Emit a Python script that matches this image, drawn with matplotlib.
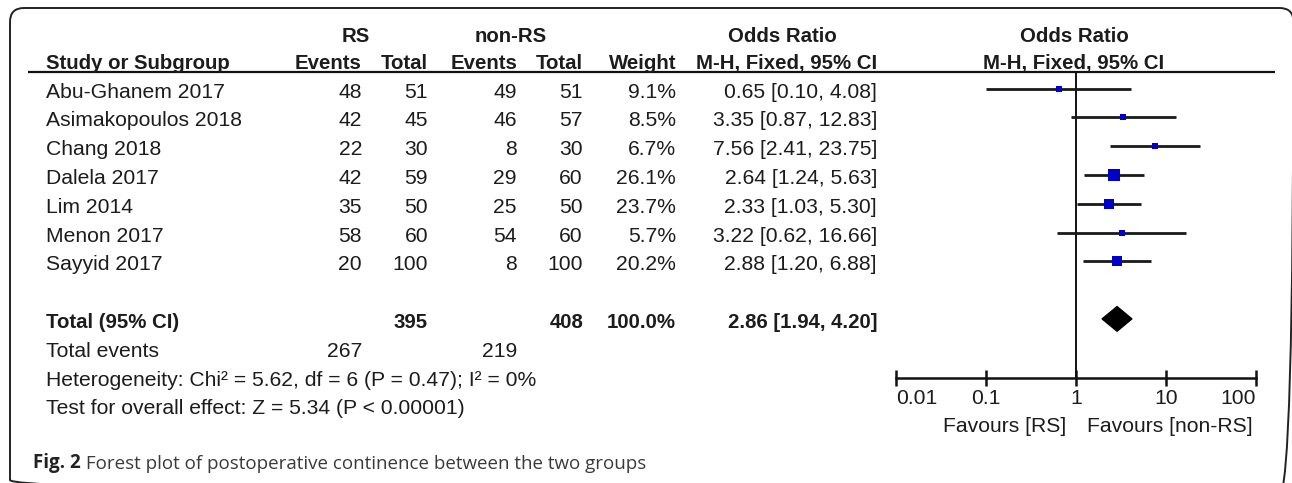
import matplotlib
matplotlib.use("Agg")
import matplotlib.pyplot as plt
from matplotlib.patches import FancyBboxPatch, Polygon
import numpy as np

# ---------------- data ----------------
studies = ["Abu-Ghanem 2017", "Asimakopoulos 2018", "Chang 2018", "Dalela 2017",
           "Lim 2014", "Menon 2017", "Sayyid 2017"]
rs_events = [48, 42, 22, 42, 35, 58, 20]
rs_total = [51, 45, 30, 59, 50, 60, 100]
non_events = [49, 46, 8, 29, 25, 54, 8]
non_total = [51, 57, 30, 60, 50, 60, 100]
weights = [9.1, 8.5, 6.7, 26.1, 23.7, 5.7, 20.2]
odds = [0.65, 3.35, 7.56, 2.64, 2.33, 3.22, 2.88]
ci_low = [0.10, 0.87, 2.41, 1.24, 1.03, 0.62, 1.20]
ci_high = [4.08, 12.83, 23.75, 5.63, 5.30, 16.66, 6.88]

total_rs = 395
total_non = 408
total_weight = 100.0
total_or = 2.86
total_low = 1.94
total_high = 4.20
events_rs = 267
events_non = 219
heterogeneity = "Heterogeneity: Chi\u00b2 = 5.62, df = 6 (P = 0.47); I\u00b2 = 0%"
overall = "Test for overall effect: Z = 5.34 (P < 0.00001)"
xticks = [0.01, 0.1, 1, 10, 100]
xticklabels = ["0.01", "0.1", "1", "10", "100"]
favours_left = "Favours [RS]"
favours_right = "Favours [non-RS]"
caption_bold = "Fig. 2"
caption_text = " Forest plot of postoperative continence between the two groups"

# ---------------- style ----------------
W, H = 1292, 483
TXT = "#1c1c1c"
BODY = dict(family="Liberation Sans", fontsize=15.2, color=TXT)
BOLD = dict(family="Liberation Sans", fontsize=14.7, color=TXT, fontweight="bold")
BLUE = "#0000c8"

fig = plt.figure(figsize=(W / 100, H / 100), dpi=100)
fig.patch.set_facecolor("white")
ax = fig.add_axes([0, 0, 1, 1])
ax.set_xlim(0, W)
ax.set_ylim(H, 0)
ax.axis("off")

# border
border = FancyBboxPatch((10, 8), 1283.5, 486, boxstyle="round,pad=0,rounding_size=14",
                        fc="none", ec="#222222", lw=1.4, clip_on=False)
ax.add_patch(border)

# layout
row0, dy = 88.5, 28.8
rows = [row0 + dy * i for i in range(len(studies))]
y_total = row0 + dy * 8
y_events = row0 + dy * 9
y_het = row0 + dy * 10
y_test = row0 + dy * 11
boff = 9  # baseline offset from mark centre
x_name = 46
x_rs_e, x_rs_t, x_non_e, x_non_t, x_w, x_ci = 362, 428, 517, 583, 676, 877

# headers
ax.text(356, 42, "RS", ha="center", va="baseline", **BOLD)
ax.text(511, 42, "non-RS", ha="center", va="baseline", **BOLD)
ax.text(782, 42, "Odds Ratio", ha="center", va="baseline", **BOLD)
ax.text(1074, 42, "Odds Ratio", ha="center", va="baseline", **BOLD)
hy = 69
ax.text(x_name, hy, "Study or Subgroup", ha="left", va="baseline", **BOLD)
for x, s in [(x_rs_e, "Events"), (x_rs_t, "Total"), (x_non_e, "Events"),
             (x_non_t, "Total"), (x_w, "Weight"), (x_ci, "M-H, Fixed, 95% CI")]:
    ax.text(x, hy, s, ha="right", va="baseline", **BOLD)
ax.text(1074, hy, "M-H, Fixed, 95% CI", ha="center", va="baseline", **BOLD)
ax.plot([28, 1275], [72, 72], color="#111111", lw=1.6, solid_capstyle="butt")

# study rows
for i, y in enumerate(rows):
    b = y + boff
    ax.text(x_name, b, studies[i], ha="left", va="baseline", **BODY)
    ax.text(x_rs_e, b, str(rs_events[i]), ha="right", va="baseline", **BODY)
    ax.text(x_rs_t, b, str(rs_total[i]), ha="right", va="baseline", **BODY)
    ax.text(x_non_e, b, str(non_events[i]), ha="right", va="baseline", **BODY)
    ax.text(x_non_t, b, str(non_total[i]), ha="right", va="baseline", **BODY)
    ax.text(x_w, b, f"{weights[i]:.1f}%", ha="right", va="baseline", **BODY)
    ax.text(x_ci, b, f"{odds[i]:.2f} [{ci_low[i]:.2f}, {ci_high[i]:.2f}]",
            ha="right", va="baseline", **BODY)

# totals
b = y_total + boff
ax.text(x_name, b, "Total (95% CI)", ha="left", va="baseline", **BOLD)
ax.text(x_rs_t, b, str(total_rs), ha="right", va="baseline", **BOLD)
ax.text(x_non_t, b, str(total_non), ha="right", va="baseline", **BOLD)
ax.text(x_w, b, f"{total_weight:.1f}%", ha="right", va="baseline", **BOLD)
ax.text(x_ci, b, f"{total_or:.2f} [{total_low:.2f}, {total_high:.2f}]",
        ha="right", va="baseline", **BOLD)
b = y_events + boff
ax.text(x_name, b, "Total events", ha="left", va="baseline", **BODY)
ax.text(x_rs_e, b, str(events_rs), ha="right", va="baseline", **BODY)
ax.text(x_non_e, b, str(events_non), ha="right", va="baseline", **BODY)
ax.text(x_name, y_het + boff, heterogeneity, ha="left", va="baseline", **BODY)
ax.text(x_name, y_test + boff, overall, ha="left", va="baseline", **BODY)

# favours labels
ax.text(1066, 432, favours_left, ha="right", va="baseline", **BODY)
ax.text(1087, 432, favours_right, ha="left", va="baseline", **BODY)

# caption
cap = ax.text(33, 468, caption_bold, ha="left", va="baseline", family="Open Sans",
              fontsize=13.5, fontweight="bold", color="#222222")
ax.annotate(caption_text, xy=(1, 0), xycoords=cap, va="bottom", ha="left",
            family="Open Sans", fontsize=13.5, color="#3a3a3a")

# ---------------- forest axes ----------------
fx = fig.add_axes([896 / W, 0, 360 / W, 1])
fx.set_xscale("log")
fx.set_xlim(0.01, 100)
fx.set_ylim(H, 0)
fx.patch.set_alpha(0)
for s in ["top", "left", "right"]:
    fx.spines[s].set_visible(False)
axis_y = 378
fx.spines["bottom"].set_position(("data", axis_y))
fx.spines["bottom"].set_linewidth(1.8)
fx.spines["bottom"].set_color("#111111")
fx.set_yticks([])
fx.set_xticks(xticks)
fx.set_xticklabels(xticklabels)
fx.xaxis.set_minor_locator(matplotlib.ticker.NullLocator())
fx.tick_params(axis="x", direction="inout", length=11.5, width=1.8, color="#111111",
               pad=2.2, labelsize=15.2, labelcolor=TXT)
for lab in fx.get_xticklabels():
    lab.set_family("Liberation Sans")
labs = fx.get_xticklabels()
labs[0].set_ha("left")
labs[-1].set_ha("right")

fx.plot([1, 1], [72, axis_y], color="#111111", lw=1.4, zorder=2)

for i, y in enumerate(rows):
    fx.plot([ci_low[i], ci_high[i]], [y, y], color="#1a1a1a", lw=2.0,
            solid_capstyle="butt", zorder=3)
    side_px = 11.5 * np.sqrt(weights[i] / 26.1)
    fx.plot([odds[i]], [y], marker="s", ms=side_px * 0.72, mfc=BLUE, mec=BLUE,
            mew=0, ls="none", zorder=4)

dh = 12.5
diamond = Polygon([(total_low, y_total), (total_or, y_total - dh),
                   (total_high, y_total), (total_or, y_total + dh)],
                  closed=True, fc="black", ec="black", lw=0.8, zorder=4)
fx.add_patch(diamond)

fig.savefig("out.png", dpi=100, facecolor="white")
